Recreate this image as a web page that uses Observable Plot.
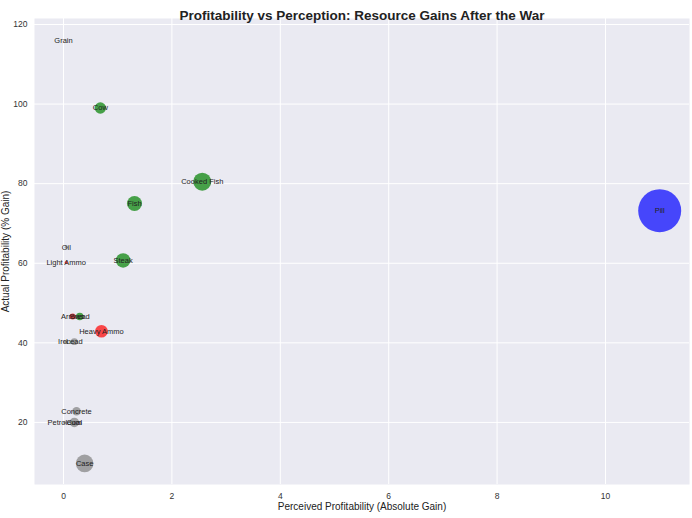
<!DOCTYPE html>
<html><head><meta charset="utf-8">
<script src="https://cdn.jsdelivr.net/npm/d3@7"></script>
<script src="https://cdn.jsdelivr.net/npm/@observablehq/plot@0.6"></script>
<style>body{margin:0;background:#fff}svg{display:block}</style>
</head><body><div id="chart"></div>
<script>
const resources = ["Grain","Cow","Cooked Fish","Fish","Oil","Light Ammo","Steak","Arrows","Bread","Heavy Ammo","Iron","Lead","Concrete","Petroleum","Coal","Case","Pill"];
const perceived = [0,0.68,2.56,1.31,0.05,0.05,1.1,0.17,0.3,0.7,0.02,0.2,0.24,0.02,0.2,0.39,11.0];
const actual = [116,99,80.5,75,64,60.2,60.7,46.6,46.6,42.9,40.3,40.3,22.8,20,20,9.7,73.2];
const amount = [0,7,17.5,12.2,0.5,0.5,11.5,1.9,3.1,8.6,0.5,2.6,3.8,0.5,4.8,16.8,100];
const category = ["Food","Food","Food","Food","Material","Weapon","Food","Weapon","Food","Weapon","Material","Material","Material","Material","Material","Material","Medical"];
const categories = ["Food","Weapon","Material","Medical"];
const colors = ["green","red","gray","blue"];
const xTicks = [0,2,4,6,8,10];
const yTicks = [20,40,60,80,100,120];

const data = resources.map((name,i)=>({name,x:perceived[i],y:actual[i],a:amount[i],c:category[i]}));
const font = "'Liberation Sans', Arial, sans-serif";

const plot = Plot.plot({
  width: 692, height: 518,
  marginLeft: 34, marginRight: 3, marginTop: 18, marginBottom: 34,
  style: {fontFamily: font, background: "#fff"},
  x: {domain: [-0.535, 11.55], ticks: xTicks, label: null},
  y: {domain: [4.4, 121.5], ticks: yTicks, label: null},
  r: {type: "sqrt", domain: [0,100], range: [0,21.5]},
  color: {domain: categories, range: colors},
  marks: [
    Plot.frame({fill: "#EAEAF2", stroke: null}),
    Plot.gridX(xTicks, {stroke: "#fff", strokeOpacity: 1, strokeWidth: 1}),
    Plot.gridY(yTicks, {stroke: "#fff", strokeOpacity: 1, strokeWidth: 1}),
    Plot.axisX(xTicks, {tickSize: 0, tickPadding: 8, fontSize: 8.5, fill: "#333", label: null}),
    Plot.axisY(yTicks, {tickSize: 0, tickPadding: 7, fontSize: 8.5, fill: "#333", label: null}),
    Plot.dot(data, {x: "x", y: "y", r: "a", fill: "c", fillOpacity: 0.7, stroke: null}),
    Plot.text(data, {x: "x", y: "y", text: "name", fill: "#222", fontSize: 7.5}),
    Plot.text(["Profitability vs Perception: Resource Gains After the War"], {frameAnchor: "top", dy: -8, fontSize: 13.5, fontWeight: "bold", fill: "#222"}),
    Plot.text(["Perceived Profitability (Absolute Gain)"], {frameAnchor: "bottom", dy: 25, fontSize: 10, fill: "#222"}),
    Plot.text(["Actual Profitability (% Gain)"], {frameAnchor: "left", textAnchor: "middle", dx: -29, rotate: -90, fontSize: 10, fill: "#222"})
  ]
});
document.getElementById("chart").appendChild(plot);
</script>
</body></html>
